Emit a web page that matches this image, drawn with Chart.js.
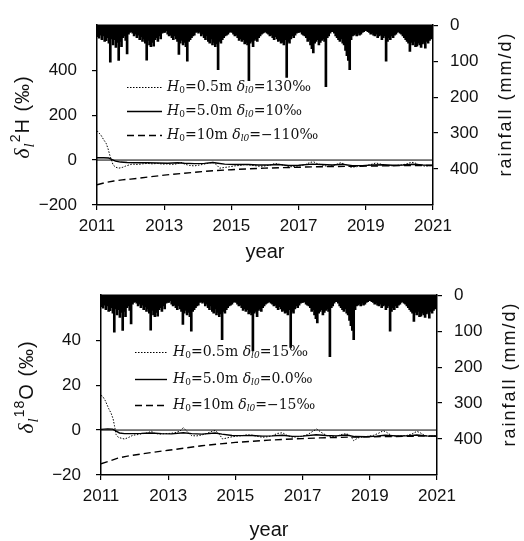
<!DOCTYPE html>
<html>
<head>
<meta charset="utf-8">
<script src="https://cdn.jsdelivr.net/npm/chart.js@4/dist/chart.umd.min.js"></script>
<style>
  html, body { margin: 0; padding: 0; background: #fff; overflow: hidden; }
  #wrap { position: relative; width: 524px; height: 541px; overflow: hidden; }
  #topChart { position: absolute; left: 0; top: 0; }
  #bottomChart { position: absolute; left: 4px; top: 270px; }
</style>
</head>
<body>
<div id="wrap">
  <canvas id="topChart" width="524" height="270"></canvas>
  <canvas id="bottomChart" width="524" height="271"></canvas>
</div>
<script>
const xTickYears = [2011, 2013, 2015, 2017, 2019, 2021];
const rainTicks = [0, 100, 200, 300, 400];
const h2Ticks = [-200, 0, 200, 400];
const o18Ticks = [-20, 0, 20, 40];

// half-monthly peak daily rainfall (mm/d), 24 values per year
const rainYears = [2011, 2012, 2013, 2014, 2015, 2016, 2017, 2018, 2019, 2020];
const rain2011 = [32, 36, 28, 40, 30, 45, 43, 35, 50, 103, 38, 55, 40, 62, 48, 98, 45, 60, 35, 30, 42, 80, 25, 20];
const rain2012 = [18, 22, 30, 25, 35, 28, 40, 32, 45, 38, 50, 97, 42, 55, 60, 48, 58, 40, 35, 45, 30, 38, 22, 20];
const rain2013 = [20, 15, 25, 30, 28, 35, 40, 30, 38, 45, 81, 50, 42, 55, 48, 60, 100, 45, 40, 35, 30, 28, 20, 18];
const rain2014 = [22, 18, 30, 25, 35, 40, 30, 45, 50, 38, 55, 48, 60, 52, 124, 45, 50, 40, 35, 30, 28, 25, 20, 18];
const rain2015 = [20, 25, 30, 28, 35, 42, 38, 45, 40, 52, 48, 55, 154, 50, 45, 60, 42, 38, 45, 35, 30, 25, 22, 20];
const rain2016 = [18, 22, 25, 30, 28, 35, 40, 32, 38, 45, 42, 50, 48, 55, 40, 145, 45, 50, 38, 30, 35, 28, 22, 20];
const rain2017 = [20, 18, 25, 28, 30, 35, 45, 40, 55, 65, 77, 50, 45, 40, 55, 48, 42, 38, 45, 171, 35, 30, 22, 18];
const rain2018 = [18, 22, 30, 35, 40, 45, 38, 50, 55, 70, 85, 98, 124, 40, 30, 28, 25, 30, 22, 28, 25, 20, 18, 15];
const rain2019 = [15, 18, 20, 25, 22, 28, 30, 25, 35, 30, 28, 40, 35, 30, 100, 45, 35, 40, 30, 35, 28, 25, 20, 18];
const rain2020 = [22, 25, 30, 35, 40, 45, 50, 73, 48, 55, 45, 60, 58, 50, 55, 62, 52, 48, 64, 45, 50, 42, 38, 30];
const rainByYear = [rain2011, rain2012, rain2013, rain2014, rain2015, rain2016, rain2017, rain2018, rain2019, rain2020];

// delta 2H, H0 = 0.5 m
const h2DotT = [2011.0, 2011.05, 2011.12, 2011.2, 2011.27, 2011.33, 2011.38, 2011.43, 2011.48, 2011.56, 2011.65, 2011.75, 2011.85, 2011.95,
  2012.05, 2012.2, 2012.35, 2012.5, 2012.65, 2012.8, 2012.95, 2013.1, 2013.25, 2013.4, 2013.5, 2013.6, 2013.75, 2013.9,
  2014.05, 2014.2, 2014.35, 2014.45, 2014.55, 2014.65, 2014.8, 2014.95, 2015.1, 2015.25, 2015.4, 2015.55, 2015.7, 2015.85,
  2016.0, 2016.15, 2016.3, 2016.45, 2016.6, 2016.75, 2016.9, 2017.05, 2017.2, 2017.35, 2017.45, 2017.55, 2017.7, 2017.85,
  2018.0, 2018.15, 2018.25, 2018.4, 2018.55, 2018.7, 2018.85, 2019.0, 2019.15, 2019.3, 2019.45, 2019.6, 2019.75, 2019.9,
  2020.05, 2020.2, 2020.35, 2020.45, 2020.6, 2020.75, 2020.9, 2021.0];
const h2DotV = [130, 122, 110, 90, 75, 50, 22, 0, -22, -32, -36, -33, -27, -22,
  -18, -20, -17, -15, -17, -15, -18, -17, -20, -16, -10, -18, -24, -26,
  -22, -18, -13, -10, -20, -36, -33, -30, -26, -24, -20, -22, -25, -28,
  -26, -22, -15, -20, -24, -30, -28, -25, -20, -10, -8, -16, -22, -28,
  -26, -18, -12, -20, -32, -30, -27, -25, -20, -13, -18, -24, -26, -24,
  -22, -18, -10, -12, -22, -27, -25, -24];
// delta 2H, H0 = 5.0 m
const h2SolT = [2011.0, 2011.2, 2011.35, 2011.45, 2011.55, 2011.7, 2011.9, 2012.2, 2012.5, 2012.8, 2013.1, 2013.4, 2013.6, 2013.9,
  2014.2, 2014.45, 2014.6, 2014.8, 2015.1, 2015.5, 2015.8, 2016.1, 2016.4, 2016.7, 2017.0, 2017.4, 2017.7, 2018.0,
  2018.3, 2018.6, 2018.9, 2019.2, 2019.5, 2019.8, 2020.1, 2020.4, 2020.7, 2021.0];
const h2SolV = [10, 10, 9, 2, -5, -9, -11, -12, -12, -13, -14, -12, -14, -16,
  -15, -11, -14, -18, -20, -20, -22, -22, -20, -24, -23, -18, -20, -22,
  -19, -25, -25, -22, -21, -23, -22, -19, -22, -23];
// delta 2H, H0 = 10 m
const h2DashT = [2011.0, 2011.25, 2011.5, 2011.75, 2012.0, 2012.5, 2013.0, 2013.5, 2014.0, 2014.5, 2015.0, 2015.5,
  2016.0, 2016.5, 2017.0, 2017.5, 2018.0, 2018.5, 2019.0, 2019.5, 2020.0, 2020.5, 2021.0];
const h2DashV = [-110, -100, -93, -88, -85, -76, -67, -60, -53, -47, -43, -39,
  -36, -34, -32, -30, -29, -28, -27, -26, -25, -25, -24];

// delta 18O, H0 = 0.5 m
const o18DotT = [2011.0, 2011.05, 2011.13, 2011.23, 2011.3, 2011.36, 2011.4, 2011.45, 2011.52, 2011.6, 2011.7, 2011.82, 2011.95,
  2012.1, 2012.25, 2012.4, 2012.5, 2012.6, 2012.75, 2012.9, 2013.05, 2013.2, 2013.35, 2013.45, 2013.55, 2013.7, 2013.85,
  2014.0, 2014.15, 2014.3, 2014.4, 2014.5, 2014.62, 2014.75, 2014.9, 2015.05, 2015.2, 2015.35, 2015.5, 2015.65, 2015.8, 2015.95,
  2016.1, 2016.25, 2016.4, 2016.55, 2016.7, 2016.85, 2017.0, 2017.15, 2017.3, 2017.42, 2017.55, 2017.7, 2017.85,
  2018.0, 2018.15, 2018.3, 2018.42, 2018.52, 2018.65, 2018.8, 2018.95, 2019.1, 2019.25, 2019.4, 2019.5, 2019.65, 2019.8, 2019.95,
  2020.1, 2020.25, 2020.4, 2020.5, 2020.65, 2020.8, 2020.92, 2021.0];
const o18DotV = [15.4, 15, 13, 9.5, 7.5, 5, 2, -2, -3.3, -3.6, -4, -3.3, -2.3,
  -2, -1.6, -1.2, -0.5, -1.5, -1.8, -1.6, -1.5, -1.2, -0.5, 1.1, -0.5, -2.5, -2.6,
  -2.2, -1.5, -0.6, -0.2, -1.5, -4, -3.5, -3, -2.7, -2.5, -2.1, -2.3, -2.8, -3.2, -3,
  -2.5, -1.5, -1.2, -2.5, -3.2, -3, -2.7, -2, -0.6, 0.5, -1, -2.3, -3,
  -2.8, -2, -1.6, -2.5, -4.7, -3.5, -3, -2.8, -2.4, -1.5, -0.3, -1, -2.5, -2.8, -2.6,
  -2.4, -1.8, -0.6, -1.2, -2.6, -2.9, -2.6, -2.5];
// delta 18O, H0 = 5.0 m
const o18SolT = [2011.0, 2011.2, 2011.35, 2011.45, 2011.55, 2011.7, 2011.9, 2012.2, 2012.5, 2012.8, 2013.1, 2013.45, 2013.7,
  2014.0, 2014.4, 2014.6, 2014.9, 2015.2, 2015.5, 2015.8, 2016.1, 2016.4, 2016.7, 2017.0, 2017.4, 2017.7,
  2018.0, 2018.3, 2018.55, 2018.9, 2019.2, 2019.45, 2019.8, 2020.1, 2020.4, 2020.7, 2021.0];
const o18SolV = [0.3, 0.5, 0.4, -0.5, -1.3, -1.6, -1.6, -1.5, -1.3, -1.6, -1.7, -1.2, -1.6,
  -1.8, -1.3, -1.8, -2.4, -2.5, -2.4, -2.7, -2.6, -2.3, -2.8, -2.7, -2.1, -2.4,
  -2.6, -2.2, -2.9, -3, -2.7, -2.3, -2.6, -2.6, -2.2, -2.6, -2.8];
// delta 18O, H0 = 10 m
const o18DashT = [2011.0, 2011.25, 2011.5, 2011.75, 2012.0, 2012.5, 2013.0, 2013.5, 2014.0, 2014.5, 2015.0, 2015.5,
  2016.0, 2016.5, 2017.0, 2017.5, 2018.0, 2018.5, 2019.0, 2019.5, 2020.0, 2020.5, 2021.0];
const o18DashV = [-15, -13.8, -12.5, -11.7, -11.1, -10, -9, -8, -7, -6.2, -5.5, -5,
  -4.5, -4.1, -3.8, -3.5, -3.3, -3.1, -3, -2.9, -2.8, -2.7, -2.6];

const zeroLineT = [2011, 2021];

const h2Legend = [['0.5m', '130‰'], ['5.0m', '10‰'], ['10m', '−110‰']];
const o18Legend = [['0.5m', '15‰'], ['5.0m', '0.0‰'], ['10m', '−15‰']];

const SANS = '"Liberation Sans", Arial, sans-serif';
const SERIF = '"DejaVu Serif", serif';

function points(ts, vs) {
  return ts.map((t, i) => ({ x: t, y: vs[i] }));
}

function rainPoints() {
  const pts = [];
  rainYears.forEach((yr, k) => {
    rainByYear[k].forEach((v, i) => pts.push({ x: yr + (i + 0.5) / 24, y: v }));
  });
  return pts;
}

function minusFmt(v) {
  return v < 0 ? '\u2212' + Math.abs(v) : String(v);
}

function runsWidth(ctx, runs) {
  let w = 0;
  runs.forEach(r => { ctx.font = r[1]; w += ctx.measureText(r[0]).width; });
  return w;
}

function drawRuns(ctx, runs, x, y) {
  let cx = x;
  runs.forEach(r => {
    ctx.font = r[1];
    ctx.fillText(r[0], cx, y + (r[2] || 0));
    cx += ctx.measureText(r[0]).width;
  });
}

function legendRuns(h, d) {
  return [
    ['H', 'italic 14px ' + SERIF],
    ['0', '9px ' + SERIF, 4],
    ['=' + h + ' ', '14px ' + SERIF],
    ['δ', 'italic 14px ' + SERIF],
    ['l0', 'italic 9px ' + SERIF, 4],
    ['=' + d, '14px ' + SERIF]
  ];
}

const textPlugin = {
  id: 'texts',
  afterDraw(chart, args, o) {
    const ctx = chart.ctx;
    const a = chart.chartArea;
    ctx.save();
    ctx.strokeStyle = '#000';
    ctx.lineWidth = 1.5;
    ctx.beginPath();
    ctx.moveTo(a.left, a.top);
    ctx.lineTo(a.right, a.top);
    ctx.stroke();

    ctx.fillStyle = '#111';
    ctx.textBaseline = 'alphabetic';

    // left axis title, rotated
    ctx.save();
    ctx.translate(o.leftTitleX, o.leftTitleY);
    ctx.rotate(-Math.PI / 2);
    ctx.letterSpacing = '1px';
    drawRuns(ctx, o.leftTitle, -runsWidth(ctx, o.leftTitle) / 2, 0);
    ctx.restore();

    // right axis title
    ctx.save();
    ctx.translate(o.rightTitleX, o.rightTitleY);
    ctx.rotate(-Math.PI / 2);
    ctx.font = '18px ' + SANS;
    ctx.letterSpacing = '2px';
    ctx.textAlign = 'center';
    ctx.fillText('rainfall (mm/d)', 0, 0);
    ctx.restore();

    ctx.font = '20px ' + SANS;
    ctx.textAlign = 'center';
    ctx.fillText('year', (a.left + a.right) / 2, o.yearY);
    ctx.textAlign = 'left';

    // legend inside the plot
    ctx.textBaseline = 'middle';
    ctx.strokeStyle = '#000';
    o.legend.forEach((row, i) => {
      const ds = chart.data.datasets[i];
      const y = o.legendY[i];
      ctx.setLineDash(ds.borderDash || []);
      ctx.lineWidth = ds.borderWidth;
      ctx.beginPath();
      ctx.moveTo(o.legendX0, y + 0.5);
      ctx.lineTo(o.legendX1, y + 0.5);
      ctx.stroke();
      ctx.setLineDash([]);
      drawRuns(ctx, legendRuns(row[0], row[1]), o.legendTextX, y);
    });
    ctx.restore();
  }
};

function makeChart(id, cfg) {
  const axisGrid = { drawOnChartArea: false, drawTicks: true, tickLength: 5, color: '#000', lineWidth: 1.2, offset: false };
  const axisBorder = { display: true, color: '#000', width: 1.5 };
  const tickFont = { family: 'Liberation Sans', size: 17 };
  return new Chart(document.getElementById(id), {
    type: 'line',
    data: {
      datasets: [
        { data: points(cfg.dotT, cfg.dotV), borderColor: '#000', borderWidth: 1, borderDash: [1.5, 1.5], pointRadius: 0, yAxisID: 'y', order: 1 },
        { data: points(cfg.solT, cfg.solV), borderColor: '#000', borderWidth: 1.4, pointRadius: 0, yAxisID: 'y', order: 1 },
        { data: points(cfg.dashT, cfg.dashV), borderColor: '#000', borderWidth: 1.4, borderDash: [7, 4], pointRadius: 0, yAxisID: 'y', order: 1 },
        { data: points(zeroLineT, [0, 0]), borderColor: '#000', borderWidth: 1, pointRadius: 0, yAxisID: 'y', order: 2 },
        { type: 'bar', data: rainPoints(), backgroundColor: '#000', borderWidth: 0, barThickness: 2, yAxisID: 'yR', order: 5 }
      ]
    },
    options: {
      responsive: false,
      animation: false,
      layout: { padding: { left: 0, right: 0, top: 15, bottom: 0 } },
      plugins: { legend: { display: false }, tooltip: { enabled: false }, texts: cfg.texts },
      scales: {
        x: {
          type: 'linear', min: 2011, max: 2021, offset: false,
          afterBuildTicks: s => { s.ticks = xTickYears.map(v => ({ value: v })); },
          afterFit: s => { s.height = cfg.xHeight; },
          grid: axisGrid, border: axisBorder,
          ticks: { color: '#111', font: tickFont, padding: 6, maxRotation: 0, autoSkip: false, callback: v => String(v) }
        },
        y: {
          type: 'linear', position: 'left', min: cfg.yMin, max: cfg.yMax,
          afterBuildTicks: s => { s.ticks = cfg.yTicks.map(v => ({ value: v })); },
          afterFit: s => { s.width = 97; },
          grid: axisGrid, border: axisBorder,
          ticks: { color: '#111', font: tickFont, padding: 15, callback: minusFmt }
        },
        yR: {
          type: 'linear', position: 'right', reverse: true, min: 0, max: 500,
          afterBuildTicks: s => { s.ticks = rainTicks.map(v => ({ value: v })); },
          afterFit: s => { s.width = 91; },
          grid: axisGrid, border: axisBorder,
          ticks: { color: '#111', font: tickFont, padding: 12, callback: v => String(v) }
        }
      }
    },
    plugins: [textPlugin]
  });
}

makeChart('topChart', {
  dotT: h2DotT, dotV: h2DotV, solT: h2SolT, solV: h2SolV, dashT: h2DashT, dashV: h2DashV,
  yMin: -200, yMax: 600, yTicks: h2Ticks, xHeight: 65,
  texts: {
    leftTitle: [['δ', 'italic 22px "Liberation Serif"'], ['l', 'italic 15px "Liberation Serif"', 5], ['2', '14px ' + SANS, -9], ['H (‰)', '20px ' + SANS]],
    leftTitleX: 29, leftTitleY: 117,
    rightTitleX: 511, rightTitleY: 104,
    yearY: 258,
    legend: h2Legend, legendY: [87, 111, 135], legendX0: 127, legendX1: 162, legendTextX: 167
  }
});

makeChart('bottomChart', {
  dotT: o18DotT, dotV: o18DotV, solT: o18SolT, solV: o18SolV, dashT: o18DashT, dashV: o18DashV,
  yMin: -20, yMax: 60, yTicks: o18Ticks, xHeight: 66,
  texts: {
    leftTitle: [['δ', 'italic 22px "Liberation Serif"'], ['l', 'italic 15px "Liberation Serif"', 5], ['18', '14px ' + SANS, -9], ['O (‰)', '20px ' + SANS]],
    leftTitleX: 29, leftTitleY: 117,
    rightTitleX: 511, rightTitleY: 104,
    yearY: 266,
    legend: o18Legend, legendY: [82, 109, 135], legendX0: 131, legendX1: 163, legendTextX: 169
  }
});
</script>
</body>
</html>
